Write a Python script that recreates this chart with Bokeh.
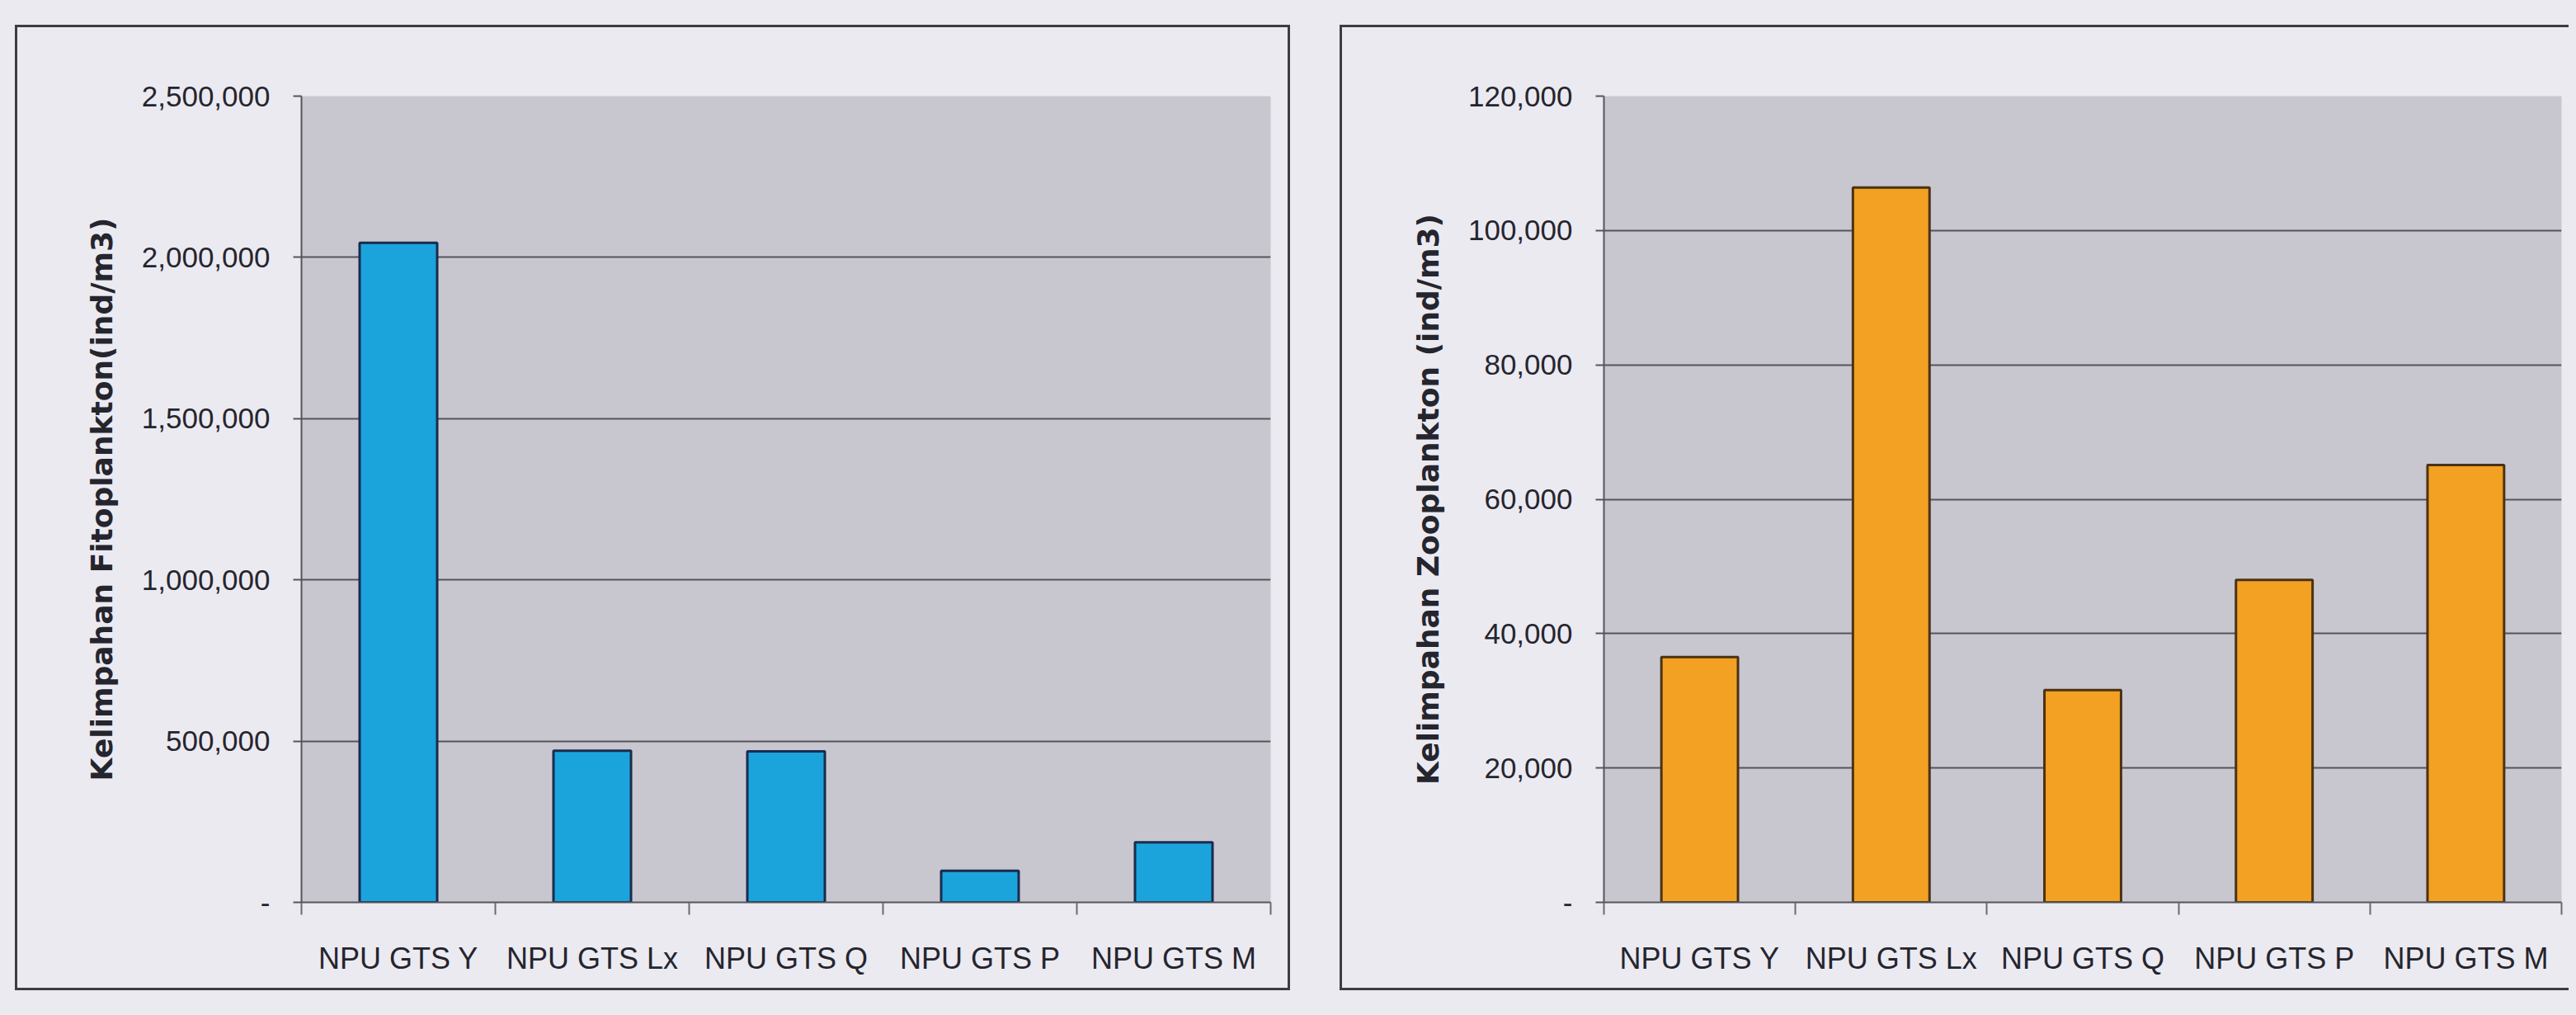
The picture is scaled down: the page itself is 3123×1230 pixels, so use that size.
from bokeh.plotting import figure
from bokeh.models import Range1d, LinearAxis, FixedTicker, NumeralTickFormatter
from bokeh.layouts import row
from bokeh.embed import file_html
from bokeh.resources import INLINE

# ---- data ----
categories = ["NPU GTS Y", "NPU GTS Lx", "NPU GTS Q", "NPU GTS P", "NPU GTS M"]
fito_values = [2045000, 470000, 468000, 98000, 186000]
zoo_values = [36500, 106400, 31600, 48000, 65100]
fito_ticks = [0, 500000, 1000000, 1500000, 2000000, 2500000]
zoo_ticks = [0, 20000, 40000, 60000, 80000, 100000, 120000]
fito_title = "Kelimpahan Fitoplankton(ind/m3)"
zoo_title = "Kelimpahan Zooplankton (ind/m3)"
zero_label = "-"

# ---- style ----
PAGE_BG = "#ebeaf1"
PLOT_BG = "#c8c7cf"
GRID = "#55555d"
TEXT = "#25252e"
BOX = "#3c3c44"
TICK_FONT = "Liberation Sans"
CAT_FONT = "Liberation Sans"
TITLE_FONT = "DejaVu Sans"

n = len(categories)
centers = [i + 0.5 for i in range(n)]
edges = [float(i) for i in range(n + 1)]


def make_chart(values, ticks, ytitle, fill, edge, width, height, mb_left, mb_right, styles, margin):
    p = figure(
        x_range=Range1d(edges[0], edges[-1]),
        y_range=Range1d(ticks[0], ticks[-1]),
        width=width, height=height,
        output_backend="svg", toolbar_location=None,
        x_axis_location=None, y_axis_location="left",
        background_fill_color=PLOT_BG, border_fill_color=PAGE_BG,
        outline_line_color=None,
        min_border_left=mb_left, min_border_right=mb_right,
        min_border_top=83, min_border_bottom=110,
        styles=styles, margin=margin,
    )
    p.xgrid.grid_line_color = None
    p.ygrid.grid_line_color = GRID
    p.ygrid.grid_line_width = 2

    ya = p.yaxis[0]
    ya.ticker = FixedTicker(ticks=ticks)
    ya.formatter = NumeralTickFormatter(format="0,0")
    ya.major_label_overrides = {0: zero_label}
    ya.axis_line_color = GRID
    ya.axis_line_width = 2
    ya.major_tick_line_color = GRID
    ya.major_tick_line_width = 2
    ya.major_tick_out = 10
    ya.major_tick_in = 0
    ya.minor_tick_line_color = None
    ya.major_label_standoff = 28
    ya.major_label_text_font = TICK_FONT
    ya.major_label_text_font_size = "35px"
    ya.major_label_text_color = TEXT
    ya.axis_label = ytitle
    ya.axis_label_text_font = TITLE_FONT
    ya.axis_label_text_font_style = "bold"
    ya.axis_label_text_font_size = "36px"
    ya.axis_label_text_color = TEXT
    ya.axis_label_standoff = 25

    tick_axis = LinearAxis(
        ticker=FixedTicker(ticks=edges),
        major_tick_out=15, major_tick_in=0,
        major_tick_line_color="#6a6a72", major_tick_line_width=2,
        minor_tick_line_color=None,
        axis_line_color=GRID, axis_line_width=2,
        major_label_text_font_size="0px", major_label_standoff=0,
        major_label_overrides={e: "" for e in edges},
    )
    p.add_layout(tick_axis, "below")
    label_axis = LinearAxis(
        ticker=FixedTicker(ticks=centers),
        major_label_overrides={c: name for c, name in zip(centers, categories)},
        major_tick_line_color=None, minor_tick_line_color=None, axis_line_color=None,
        major_label_text_font=CAT_FONT, major_label_text_font_size="36px",
        major_label_text_color=TEXT, major_label_standoff=26,
    )
    p.add_layout(label_axis, "below")

    p.vbar(x=centers, top=values, width=0.4, bottom=0,
           fill_color=fill, line_color=edge, line_width=3)
    return p


box = "3px solid " + BOX
p1 = make_chart(fito_values, fito_ticks, fito_title, "#1ba4dc", "#1b2b4e",
                1546, 1170, 344, 27, {"border": box}, (30, 0, 0, 18))
p2 = make_chart(zoo_values, zoo_ticks, zoo_title, "#f2a122", "#4a3214",
                1490, 1170, 317, 12,
                {"border-top": box, "border-left": box, "border-bottom": box},
                (30, 0, 0, 60))

layout = row(p1, p2, styles={"background-color": PAGE_BG}, width=3123, height=1230)

open("out.html", "w").write(file_html(layout, INLINE))
